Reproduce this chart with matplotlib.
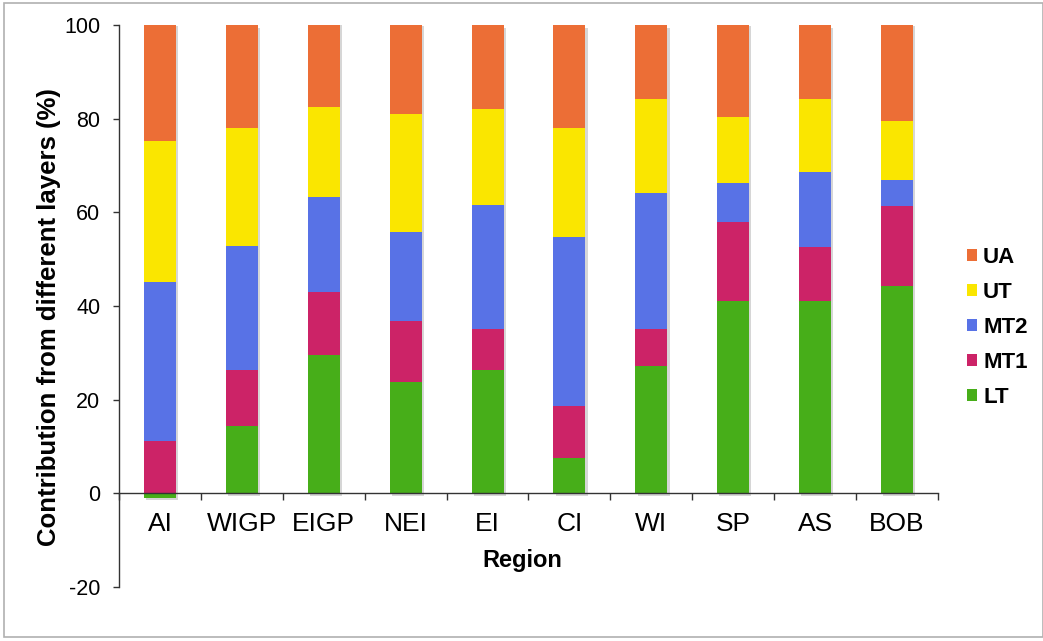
import matplotlib
matplotlib.use("Agg")
import matplotlib.pyplot as plt
import matplotlib.transforms as mtransforms
from matplotlib.patches import Rectangle
import numpy as np

plt.rcParams['font.family'] = ['Liberation Sans', 'DejaVu Sans']
plt.rcParams['axes.unicode_minus'] = False

regions = ["AI", "WIGP", "EIGP", "NEI", "EI", "CI", "WI", "SP", "AS", "BOB"]
layers = ["LT", "MT1", "MT2", "UT", "UA"]

LT = [-1.0, 14.3, 29.6, 23.7, 26.4, 7.5, 27.1, 41.1, 41.1, 44.2]
MT1 = [11.1, 12.1, 13.3, 13.0, 8.7, 11.1, 8.0, 16.8, 11.5, 17.1]
MT2 = [34.0, 26.5, 20.3, 19.1, 26.5, 36.2, 29.0, 8.3, 16.1, 5.6]
UT = [30.2, 25.2, 19.2, 25.3, 20.5, 23.3, 20.2, 14.1, 15.4, 12.5]
UA = [24.9, 21.8, 18.0, 19.1, 17.8, 21.8, 15.6, 19.9, 15.8, 20.8]

colors = {
    "LT": "#47ae19",
    "MT1": "#cc2367",
    "MT2": "#5872e6",
    "UT": "#fae600",
    "UA": "#ec6e36",
}

series = {"LT": LT, "MT1": MT1, "MT2": MT2, "UT": UT, "UA": UA}

fig = plt.figure(figsize=(10.43, 6.41), dpi=100)
ax = fig.add_axes([0.1141, 0.0842, 0.7852, 0.8768])

x = np.arange(len(regions))
bar_w = 0.39
pos_base = np.zeros(len(regions))
neg_base = np.zeros(len(regions))
handles = {}
for name in layers:
    vals = np.array(series[name])
    bottoms = np.where(vals >= 0, pos_base, neg_base)
    bars = ax.bar(x, vals, width=bar_w, bottom=bottoms, color=colors[name],
                  edgecolor="none", label=name, zorder=3)
    handles[name] = bars
    pos_base = pos_base + np.where(vals >= 0, vals, 0)
    neg_base = neg_base + np.where(vals < 0, vals, 0)

# soft drop shadow behind each whole stacked column
shadow_tf = ax.transData + mtransforms.ScaledTranslation(1.6 / 72, -1.6 / 72, fig.dpi_scale_trans)
ax.bar(x, pos_base - neg_base, width=bar_w, bottom=neg_base, color="#7a7a7a",
       alpha=0.3, edgecolor="none", zorder=2, transform=shadow_tf)

ax.set_xlim(-0.5, len(regions) - 0.5)
ax.set_ylim(-20, 100)
ax.set_yticks(np.arange(-20, 101, 20))

for side in ("top", "right"):
    ax.spines[side].set_visible(False)
ax.spines["bottom"].set_position(("data", 0))
for side in ("left", "bottom"):
    ax.spines[side].set_color("#333333")
    ax.spines[side].set_linewidth(1.0)
    ax.spines[side].set_zorder(4)

ax.set_xticks(x)
ax.set_xticklabels(regions)
ax.set_xticks(np.arange(-0.5, len(regions)), minor=True)
ax.tick_params(axis="x", which="major", length=0, pad=13.5, labelsize=19)
ax.tick_params(axis="x", which="minor", length=5, width=1.0, color="#333333", direction="out")
ax.tick_params(axis="y", length=4, width=1.0, color="#333333", direction="out", pad=9.5, labelsize=15.5)

ax.set_ylabel("Contribution from different layers (%)", fontsize=18.5, fontweight="bold")
ax.yaxis.set_label_coords(-0.071, 0.48)
ax.text(0.493, 0.048, "Region", transform=ax.transAxes, ha="center", va="center",
        fontsize=17, fontweight="bold")

leg_order = ["UA", "UT", "MT2", "MT1", "LT"]
leg = fig.legend([handles[n] for n in leg_order], leg_order, loc="center left",
                 bbox_to_anchor=(0.908, 0.489), frameon=False, handlelength=0.45,
                 handleheight=0.45, handletextpad=0.27, labelspacing=0.63,
                 prop={"weight": "bold", "size": 16})

fig.patches.append(Rectangle((4 / 1043, 4 / 641), 1 - 4 / 1043, 1 - 7 / 641,
                             transform=fig.transFigure, fill=False,
                             edgecolor="#b0b0b0", linewidth=1.2))

fig.savefig("out.png", dpi=100)
